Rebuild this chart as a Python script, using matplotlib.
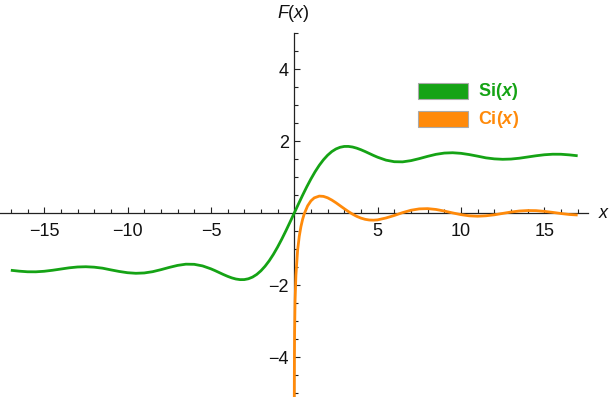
import numpy as np
import matplotlib
matplotlib.use("Agg")
import matplotlib.pyplot as plt
from matplotlib.patches import Rectangle
from matplotlib.ticker import FixedLocator

plt.rcParams['font.family'] = ['Liberation Sans', 'DejaVu Sans']
plt.rcParams['mathtext.fontset'] = 'custom'
plt.rcParams['mathtext.rm'] = 'Liberation Sans'
plt.rcParams['mathtext.it'] = 'Liberation Sans:italic'
plt.rcParams['mathtext.bf'] = 'Liberation Sans:bold'
plt.rcParams['mathtext.bfit'] = 'Liberation Sans:italic:bold'

# ---- data ----
si_x = [-17, -16.5, -16, -15.5, -15, -14.5, -14, -13.5, -13, -12.5, -12, -11.5,
        -11, -10.5, -10, -9.5, -9, -8.5, -8, -7.5, -7, -6.5, -6, -5.5, -5,
        -4.75, -4.5, -4.25, -4, -3.75, -3.5, -3.25, -3, -2.75, -2.5, -2.25, -2,
        -1.75, -1.5, -1.25, -1, -0.75, -0.5, -0.25, 0, 0.25, 0.5, 0.75, 1, 1.25,
        1.5, 1.75, 2, 2.25, 2.5, 2.75, 3, 3.25, 3.5, 3.75, 4, 4.25, 4.5, 4.75,
        5, 5.5, 6, 6.5, 7, 7.5, 8, 8.5, 9, 9.5, 10, 10.5, 11, 11.5, 12,
        12.5, 13, 13.5, 14, 14.5, 15, 15.5, 16, 16.5, 17]
si_y = [-1.590, -1.615, -1.632, -1.633, -1.618, -1.590, -1.556, -1.522, -1.499,
        -1.492, -1.504, -1.532, -1.579, -1.623, -1.658, -1.674, -1.665, -1.630,
        -1.574, -1.511, -1.455, -1.421, -1.425, -1.469, -1.550,
        -1.600, -1.654, -1.708, -1.758, -1.801, -1.833, -1.850, -1.849, -1.826,
        -1.779, -1.706, -1.605, -1.478, -1.325, -1.147, -0.946, -0.727, -0.493,
        -0.249, 0.0, 0.249, 0.493, 0.727, 0.946, 1.147, 1.325, 1.478, 1.605,
        1.706, 1.779, 1.826, 1.849, 1.850, 1.833, 1.801, 1.758, 1.708, 1.654,
        1.600, 1.550, 1.469, 1.425, 1.421, 1.455, 1.511, 1.574, 1.630, 1.665,
        1.674, 1.658, 1.623, 1.579, 1.532, 1.504, 1.492, 1.499, 1.522, 1.556,
        1.590, 1.618, 1.633, 1.632, 1.615, 1.590]

ci_x = [0.003, 0.005, 0.01, 0.02, 0.05, 0.1, 0.2, 0.3, 0.4, 0.5, 0.6, 0.8, 1.0,
        1.2, 1.5, 1.75, 2, 2.25, 2.5, 2.75, 3, 3.25, 3.5, 3.75, 4, 4.25, 4.5,
        4.75, 5, 5.5, 6, 6.5, 7, 7.5, 8, 8.5, 9, 9.5, 10, 10.5, 11, 11.5, 12,
        12.5, 13, 13.5, 14, 14.5, 15, 15.5, 16, 16.5, 17]
ci_y = [-5.232, -4.721, -4.028, -3.335, -2.419, -1.728, -1.042, -0.649, -0.379,
        -0.178, -0.022, 0.198, 0.337, 0.421, 0.470, 0.462, 0.423, 0.361, 0.286,
        0.203, 0.120, 0.040, -0.032, -0.093, -0.141, -0.175, -0.194, -0.198,
        -0.190, -0.138, -0.068, 0.011, 0.077, 0.115, 0.122, 0.099, 0.055,
        0.003, -0.045, -0.078, -0.089, -0.077, -0.050, -0.011, 0.027, 0.056,
        0.069, 0.066, 0.046, 0.018, -0.014, -0.041, -0.055]

x_major = [-15, -10, -5, 5, 10, 15]
y_major = [-4, -2, 2, 4]

GREEN = '#15a315'
ORANGE = '#ff8a0a'

W, H = 614, 397
fig = plt.figure(figsize=(W / 100, H / 100), dpi=100)
ax = fig.add_axes([0, 0, 588 / W, 364 / H])
ax.set_xlim(-17.65, 17.62)
ax.set_ylim(-5.11, 5.0)
ax.patch.set_alpha(0)

ax.plot(si_x, si_y, color=GREEN, lw=2.0, solid_capstyle='butt', solid_joinstyle='round', zorder=3)
ax.plot(ci_x, ci_y, color=ORANGE, lw=2.0, solid_capstyle='butt', solid_joinstyle='round', zorder=3)

for s in ['top', 'right']:
    ax.spines[s].set_visible(False)
ax.spines['left'].set_position(('data', 0))
ax.spines['bottom'].set_position(('data', 0))
for s in ['left', 'bottom']:
    ax.spines[s].set_linewidth(0.9)
    ax.spines[s].set_color('#222222')

ax.xaxis.set_major_locator(FixedLocator(x_major))
ax.xaxis.set_minor_locator(FixedLocator([v for v in range(-17, 18) if v % 5 != 0]))
ax.yaxis.set_major_locator(FixedLocator(y_major))
ax.yaxis.set_minor_locator(FixedLocator([v / 2 for v in range(-10, 11) if v % 4 != 0]))

ax.tick_params(axis='both', which='both', direction='in', color='#222222', width=0.8,
               labelsize=13, labelcolor='#111111')
ax.tick_params(axis='both', which='major', length=4.5)
ax.tick_params(axis='both', which='minor', length=3)
ax.tick_params(axis='x', pad=7)
ax.tick_params(axis='y', pad=4)

fig.text(293 / W, 1 - 13 / H, r'$F(x)$', ha='center', va='center', fontsize=13, color='#111111')
fig.text(604 / W, 1 - 213 / H, r'$x$', ha='center', va='center', fontsize=13, color='#111111')

# legend
fig.add_artist(Rectangle((418 / W, 1 - 99 / H), 50 / W, 16 / H, transform=fig.transFigure,
                         facecolor=GREEN, edgecolor='#aaaaaa', lw=0.8))
fig.add_artist(Rectangle((418 / W, 1 - 127 / H), 50 / W, 16 / H, transform=fig.transFigure,
                         facecolor=ORANGE, edgecolor='#aaaaaa', lw=0.8))
fig.text(478 / W, 1 - 91 / H, r'$\mathbf{Si(}\mathbfit{x}\mathbf{)}$', ha='left', va='center',
         fontsize=13, color=GREEN)
fig.text(478 / W, 1 - 119 / H, r'$\mathbf{Ci(}\mathbfit{x}\mathbf{)}$', ha='left', va='center',
         fontsize=13, color=ORANGE)

fig.savefig('out.png', dpi=100)
